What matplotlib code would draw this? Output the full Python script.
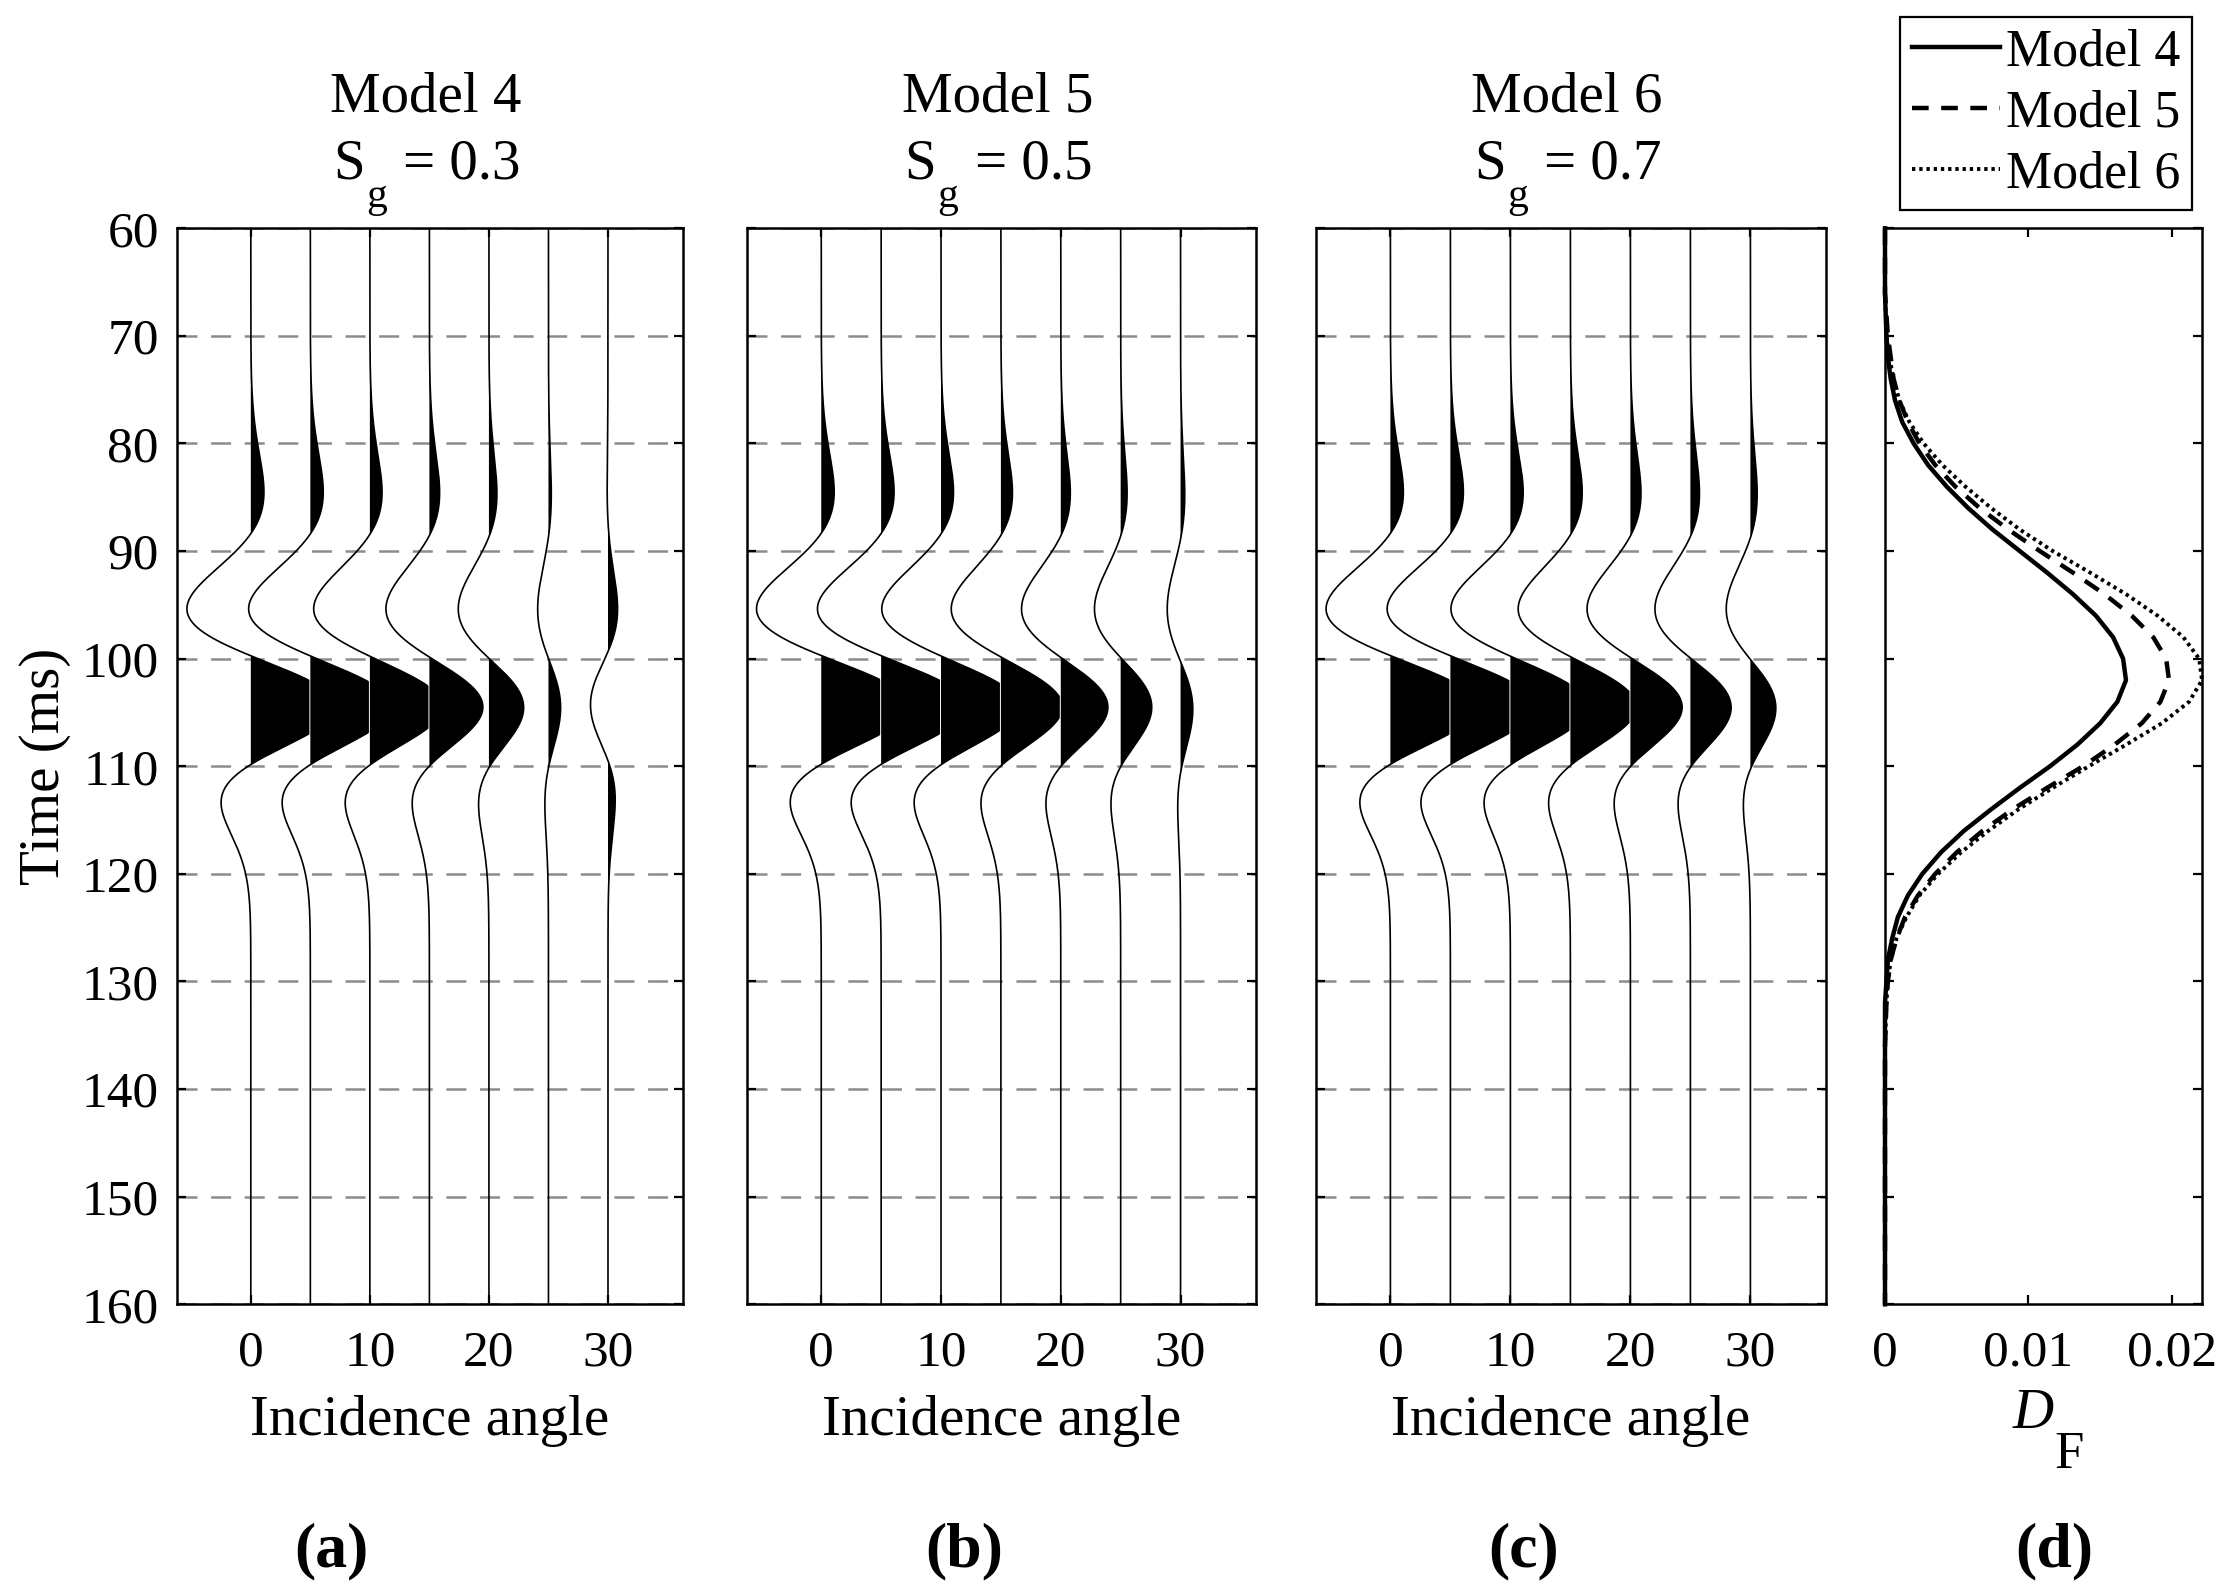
import numpy as np
import matplotlib
matplotlib.use('Agg')
import matplotlib.pyplot as plt

plt.rcParams['font.family'] = ['Liberation Serif', 'DejaVu Serif']
plt.rcParams['lines.scale_dashes'] = False

# ------------------------------------------------------------------ data
angles = [0, 5, 10, 15, 20, 25, 30]          # incidence angle of each trace
angle_ticks = [0, 10, 20, 30]
time_ticks = [60, 70, 80, 90, 100, 110, 120, 130, 140, 150, 160]
model_names = ['Model 4', 'Model 5', 'Model 6']
sg_values = ['0.3', '0.5', '0.7']
panel_labels = ['(a)', '(b)', '(c)', '(d)']

# reflection events (time in ms, dominant frequency in Hz)
t_top, f_top = 95.4, 37.0
t_base, f_base = 104.2, 44.0
clip_level = 4.85

# amplitude (in trace-spacing units) of the top (negative) and base (positive) events
top_amp_m4 = [2.6, 2.55, 2.4, 2.0, 1.55, 0.55, -0.18]
base_amp_m4 = [6.2, 5.9, 5.2, 3.7, 2.3, 0.8, -1.4]
top_amp_m5 = [2.55, 2.55, 2.45, 2.25, 1.85, 1.25, 0.8]
base_amp_m5 = [6.4, 6.2, 5.6, 4.25, 3.2, 2.1, 0.7]
top_amp_m6 = [2.55, 2.55, 2.5, 2.3, 2.05, 1.75, 1.3]
base_amp_m6 = [6.3, 6.1, 5.5, 4.6, 3.5, 2.7, 1.6]

# panel (d): D_F versus time
df_time = [60, 66, 70, 72, 74, 76, 78, 80, 82, 84, 86, 88, 90, 92, 94, 96, 98, 100,
           102, 104, 106, 108, 110, 112, 114, 116, 118, 120, 122, 124, 126, 128, 130,
           132, 136, 160]
df_m4 = [0, 0, 0.0001, 0.0002, 0.0004, 0.0007, 0.0012, 0.0020, 0.0030, 0.0043, 0.0058,
         0.0075, 0.0094, 0.0113, 0.0131, 0.0147, 0.0159, 0.0166, 0.0168, 0.0162, 0.0150,
         0.0134, 0.0115, 0.0094, 0.0074, 0.0055, 0.0039, 0.0026, 0.0016, 0.0009, 0.0005,
         0.0002, 0.0001, 0, 0, 0]
df_m5 = [0, 0, 0.0002, 0.0004, 0.0006, 0.0010, 0.0016, 0.0024, 0.0035, 0.0049, 0.0066,
         0.0086, 0.0108, 0.0131, 0.0153, 0.0172, 0.0187, 0.0196, 0.0198, 0.0192, 0.0179,
         0.0160, 0.0138, 0.0113, 0.0089, 0.0068, 0.0050, 0.0035, 0.0023, 0.0014, 0.0008,
         0.0004, 0.0002, 0.0001, 0, 0]
df_m6 = [0, 0, 0.0001, 0.0003, 0.0006, 0.0010, 0.0017, 0.0027, 0.0040, 0.0056, 0.0074,
         0.0094, 0.0117, 0.0143, 0.0168, 0.0190, 0.0208, 0.0219, 0.0221, 0.0212, 0.0193,
         0.0168, 0.0142, 0.0117, 0.0093, 0.0072, 0.0053, 0.0037, 0.0024, 0.0015, 0.0008,
         0.0004, 0.0002, 0.0001, 0, 0]
df_ticks = [0, 0.01, 0.02]
df_tick_labels = ['0', '0.01', '0.02']


def ricker(tau_ms, f):
    x = (np.pi * f * tau_ms / 1000.0) ** 2
    return (1 - 2 * x) * np.exp(-x)


# ------------------------------------------------------------------ figure
W, H = 2232, 1594
fig = plt.figure(figsize=(W / 200, H / 200), dpi=200)
top_px, bot_px = 228.3, 1304.3
ax_px = [(177, 683), (747, 1256), (1316, 1826), (1885, 2202)]
axes = [fig.add_axes([l / W, 1 - bot_px / H, (r - l) / W, (bot_px - top_px) / H])
        for l, r in ax_px]

TICK_FS = 18.5
LAB_FS = 20.5

for ax in axes:
    ax.set_ylim(160, 60)
    ax.set_yticks(time_ticks)
    ax.tick_params(direction='in', top=True, right=True, length=3.3, width=0.8,
                   labelsize=TICK_FS, color='k')
    ax.tick_params(axis='x', pad=9.2)
    ax.tick_params(axis='y', pad=6.5)
    for sp in ax.spines.values():
        sp.set_linewidth(0.9)
    if ax is not axes[0]:
        ax.set_yticklabels([])

t = np.arange(60, 160.001, 0.05)
amps = [(top_amp_m4, base_amp_m4), (top_amp_m5, base_amp_m5), (top_amp_m6, base_amp_m6)]
for ax, (tops, bases), name, sg in zip(axes[:3], amps, model_names, sg_values):
    ax.set_axisbelow(True)
    ax.yaxis.grid(True, color='0.55', lw=0.9, ls=(0, (7.2, 4.9)))
    for ang, a, b in zip(angles, tops, bases):
        s = -a * ricker(t - t_top, f_top) + b * ricker(t - t_base, f_base)
        s = np.minimum(s, clip_level)
        x = ang + s
        ax.fill_betweenx(t, ang, x, where=s > 0, interpolate=True, color='k', lw=0)
        ax.plot(x, t, color='k', lw=0.6)
    ax.set_xlim(-6.2, 36.3)
    ax.set_xticks(angle_ticks)
    ax.set_xlabel('Incidence angle', fontsize=LAB_FS)
    ax.xaxis.set_label_coords(0.5, -0.0843)
    kw = dict(xy=(0.5, 1), xycoords='axes fraction', textcoords='offset points',
              va='baseline')
    ax.annotate(name, xytext=(-1.4, 42), ha='center', fontsize=LAB_FS, **kw)
    ax.annotate('S', xytext=(-23.5, 18), ha='right', fontsize=LAB_FS, **kw)
    ax.annotate('g', xytext=(-23, 7.6), ha='left', fontsize=15, **kw)
    ax.annotate('= ' + sg, xytext=(-9.7, 18), ha='left', fontsize=LAB_FS, **kw)

axes[0].set_ylabel('Time (ms)', fontsize=LAB_FS)
axes[0].yaxis.set_label_coords(-0.2095, 0.5)

# panel (d)
axd = axes[3]
l4, = axd.plot(df_m4, df_time, color='k', lw=1.6, ls='-', label='Model 4', clip_on=False)
l5, = axd.plot(df_m5, df_time, color='k', lw=1.6, ls=(0, (6, 4.5)), label='Model 5', clip_on=False)
l6, = axd.plot(df_m6, df_time, color='k', lw=1.4, ls=(0, (1.2, 1.4)), label='Model 6', clip_on=False)
axd.set_xlim(0, 0.0221)
axd.set_xticks(df_ticks)
axd.set_xticklabels(df_tick_labels)
kw = dict(xy=(0.5, 0), xycoords='axes fraction', textcoords='offset points', va='baseline')
axd.annotate('D', xytext=(3.8, -44.6), ha='right', fontsize=LAB_FS, style='italic', **kw)
axd.annotate('F', xytext=(3.8, -59), ha='left', fontsize=19, **kw)

leg = fig.legend(handles=[l4, l5, l6], loc='upper right',
                 bbox_to_anchor=(2192 / W, 1 - 17 / H), bbox_transform=fig.transFigure,
                 fontsize=18.7, frameon=True, fancybox=False, edgecolor='k', framealpha=1,
                 borderpad=0.22, labelspacing=0.25, handlelength=1.7, handletextpad=0.12,
                 borderaxespad=0)
leg.get_frame().set_linewidth(0.8)

for xc, lab in zip([0.1486, 0.432, 0.6827, 0.9205], panel_labels):
    fig.text(xc, 0.017, lab, ha='center', va='baseline', fontsize=23, fontweight='bold')

fig.savefig('out.png', dpi=200, facecolor='white')
